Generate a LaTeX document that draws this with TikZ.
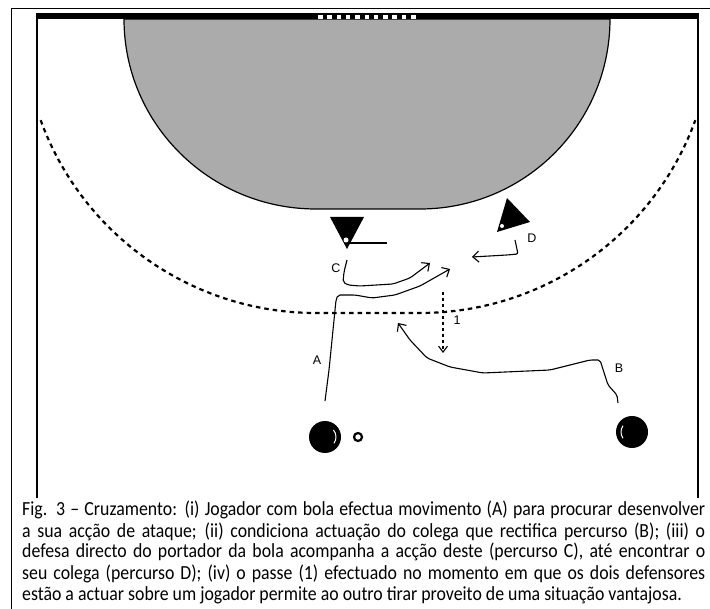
\documentclass[tikz,border=0pt]{standalone}
\usepackage{fontspec}
\setmainfont{Liberation Sans}
\newfontfamily\capfont[FakeStretch=0.89]{Carlito}
\usetikzlibrary{arrows.meta}

\begin{document}
\begin{tikzpicture}[x=1pt,y=-1pt]

  \tikzstyle{court} = [line width=1.6]
  \tikzstyle{zone} = [fill=black!33, draw=black, line width=1.2]
  \tikzstyle{nine} = [line width=2.2, dash pattern=on 4.5pt off 4pt]
  \tikzstyle{run} = [line width=1.1, rounded corners=2pt, -{Straight Barb[length=6pt,width=11pt]}]
  \tikzstyle{pass} = [line width=1.1, dash pattern=on 3pt off 3pt, -{Straight Barb[length=6pt,width=9pt]}]
  \tikzstyle{tag} = [inner sep=0, font=\fontsize{12.5}{14}\selectfont]
  \tikzstyle{attacker} = [circle, fill=black, minimum size=32, inner sep=0]
  \tikzstyle{caption} = [anchor=base west, inner sep=0, font=\capfont\fontsize{20}{21}\selectfont]

  \useasboundingbox (0,0) rectangle (710,609);

  % frame
  \draw[line width=1] (11,609) -- (11,9) -- (710,9);

  % goal area
  \draw[zone] (124,19) arc[start angle=180, end angle=90, x radius=192, y radius=190]
    -- (420,209) arc[start angle=90, end angle=0, x radius=190, y radius=190] -- cycle;

  % court and goal
  \draw[court] (37,498) -- (37,17);
  \draw[court] (698,498) -- (698,17);
  \draw[line width=6] (36,16) -- (699,16);
  \foreach \i in {0,...,10}
    \fill[white] (318+9.3*\i,15) rectangle ++(4.5,4);

  % free throw line
  \draw[nine] (316,20) ++(160:293) arc[start angle=160, end angle=90, radius=293]
    -- (420,313) arc[start angle=90, end angle=20, radius=293];

  % defenders
  \fill (330,217) -- (364,217) -- (347,249) -- cycle;
  \fill[white] (346,240) circle (2.5);
  \draw[line width=2] (348,243) -- (387,243);
  \fill (507,198) -- (530,222) -- (497,232) -- cycle;
  \fill[white] (502,226) circle (2);

  % attackers
  \node[attacker] (pA) at (325,437) {};
  \node[attacker] (pB) at (632,432) {};
  \node[circle, draw, line width=2.2, minimum size=8, inner sep=0] (ball) at (358,437) {};
  \draw[white, line width=1] (pA.center) ++(-40:11) arc[start angle=-40, end angle=35, radius=11];
  \draw[white, line width=1] (pB.center) ++(145:11) arc[start angle=145, end angle=215, radius=11];

  % paths
  \coordinate (a0) at (325,401);
  \coordinate (a1) at (450,269);
  \coordinate (b0) at (618,403);
  \coordinate (b1) at (398,323);
  \coordinate (c0) at (347,260);
  \coordinate (c1) at (430,263);
  \coordinate (d0) at (515,240);
  \coordinate (d1) at (472,257);
  \coordinate (p0) at (443,292);
  \coordinate (p1) at (443,353);

  \draw[run] (a0) -- (329,370) -- (333,330) -- (336,300) -- (338,295) -- (355,295)
    -- (372,298) -- (395,295) -- (420,286) -- (a1);
  \draw[run] (b0) -- (617,395) -- (608,385) -- (600,360) -- (590,360) -- (550,370)
    -- (483,373) -- (450,367) -- (427,358) -- (410,340) -- (b1);
  \draw[run] (c0) -- (344,272) -- (343,282) -- (348,285) -- (360,286) -- (393,284)
    -- (410,278) -- (c1);
  \draw[run] (d0) -- (518,254) -- (507,255) -- (d1);
  \draw[pass] (p0) -- (p1);

  % labels
  \node[tag] (lA) at (317,360) {A};
  \node[tag] (lB) at (619,368) {B};
  \node[tag] (lC) at (336,268) {C};
  \node[tag] (lD) at (532,238) {D};
  \node[tag] (l1) at (457,320) {1};

  % caption
  \node[caption] (cap1) at (22,516) {\makebox[683pt][s]{Fig. 3 – Cruzamento: (i) Jogador com bola efectua movimento (A) para procurar desenvolver}};
  \node[caption] (cap2) at (22,537) {\makebox[683pt][s]{a sua acção de ataque; (ii) condiciona actuação do colega que rectifica percurso (B); (iii) o}};
  \node[caption] (cap3) at (22,558) {\makebox[683pt][s]{defesa directo do portador da bola acompanha a acção deste (percurso C), até encontrar o}};
  \node[caption] (cap4) at (22,579) {\makebox[683pt][s]{seu colega (percurso D); (iv) o passe (1) efectuado no momento em que os dois defensores}};
  \node[caption] (cap5) at (22,600) {estão a actuar sobre um jogador permite ao outro tirar proveito de uma situação vantajosa.};

\end{tikzpicture}
\end{document}
